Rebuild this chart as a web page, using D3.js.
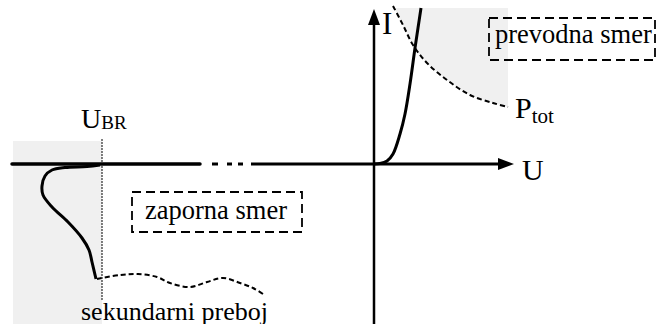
<!DOCTYPE html>
<html>
<head>
<meta charset="utf-8">
<script src="https://cdn.jsdelivr.net/npm/d3@7"></script>
<style>
  html, body { margin: 0; padding: 0; background: #fff; }
  svg { display: block; }
  svg text { font-family: "Liberation Serif", "DejaVu Serif", serif; }
</style>
</head>
<body>
<svg id="chart" width="658" height="324"></svg>
<script>
// Diode characteristic, schematic units: [U, I]
const forwardCurve = [[0,0],[0.6,0.05],[1.3,0.3],[1.9,1.0],[2.6,3.0],[3.1,5.0],[3.6,8.0],[4.1,11.6],[4.4,13.6],[4.7,15.6]];
const ptotCurve = [[1.9,15.8],[2.9,13.9],[3.9,11.9],[5.3,10.1],[7.3,8.4],[9.6,6.9],[11.9,6.1],[13.4,5.7]];
const breakdownCurve = [[-27.4,-0.1],[-28.7,-0.25],[-30.9,-0.35],[-32.2,-0.6],[-32.9,-1.2],[-33.2,-2.2],[-33.1,-3.1],[-32.2,-4.3],[-30.6,-5.8],[-29.2,-7.4],[-28.5,-8.6],[-28.2,-9.8],[-27.8,-11.5]];
const secondaryCurve = [[-27.7,-11.5],[-25.4,-11.1],[-23.6,-11.0],[-21.7,-11.3],[-20.4,-11.9],[-18.4,-12.3],[-16.7,-11.8],[-15.1,-11.4],[-13.4,-11.9],[-12.1,-12.4],[-11.1,-13.0]];
const leakageSegment = [-36.2, -17.4];
const axisBreakDots = [[-16.2,-15.6],[-14.7,-14.2],[-13.6,-13.1]];
const axisU = [-12.3, 14.0];
const axisI = [-16.0, 15.5];
const uBR = -27.2;
const labels = { U: "U", I: "I", P: "P", tot: "tot", BR: "BR", forward: "prevodna smer", reverse: "zaporna smer", secondary: "sekundarni preboj" };

const svg = d3.select("#chart");
const x = d3.scaleLinear().domain([-36.4, 28.4]).range([10, 658]);
const y = d3.scaleLinear().domain([-16.0, 16.4]).range([324, 0]);
const line = d3.line().x(d => x(d[0])).y(d => y(d[1])).curve(d3.curveCatmullRom.alpha(0.5));

// shaded regions
svg.append("rect").attr("x", x(-36.1)).attr("y", y(2.3))
  .attr("width", x(uBR) - x(-36.1)).attr("height", y(-16) - y(2.3)).attr("fill", "#f0f0f0");
const shadeTop = 15.6, shadeRight = ptotCurve[ptotCurve.length - 1][0];
svg.append("path")
  .attr("d", "M" + x(ptotCurve[0][0]) + "," + y(shadeTop) + "L" + x(shadeRight) + "," + y(shadeTop) +
    line(ptotCurve.slice().reverse()).replace("M", "L") + "Z")
  .attr("fill", "#f0f0f0");

// U_BR marker
svg.append("line").attr("x1", x(uBR)).attr("x2", x(uBR)).attr("y1", y(2.5)).attr("y2", y(-13.6))
  .attr("stroke", "#000").attr("stroke-width", 1).attr("stroke-dasharray", "2,1");

// axes
const arrow = (tipX, tipY, dir) => {
  const L = 16, W = 6;
  const pts = dir === "right"
    ? [[tipX, tipY], [tipX - L, tipY - W], [tipX - L, tipY + W]]
    : [[tipX, tipY], [tipX - W, tipY + L], [tipX + W, tipY + L]];
  svg.append("path").attr("d", "M" + pts.join("L") + "Z").attr("fill", "#000");
};
svg.append("line").attr("x1", x(axisU[0])).attr("x2", x(axisU[1]) - 12).attr("y1", y(0)).attr("y2", y(0))
  .attr("stroke", "#000").attr("stroke-width", 3);
arrow(x(axisU[1]), y(0), "right");
svg.append("line").attr("x1", x(0)).attr("x2", x(0)).attr("y1", y(axisI[0])).attr("y2", y(axisI[1]) + 12)
  .attr("stroke", "#000").attr("stroke-width", 2.5);
arrow(x(0), y(axisI[1]), "up");

// reverse leakage and axis break
svg.append("line").attr("x1", x(leakageSegment[0])).attr("x2", x(leakageSegment[1])).attr("y1", y(0)).attr("y2", y(0))
  .attr("stroke", "#000").attr("stroke-width", 3.5).attr("stroke-linecap", "round");
axisBreakDots.forEach(d => svg.append("line").attr("x1", x(d[0])).attr("x2", x(d[1])).attr("y1", y(0)).attr("y2", y(0))
  .attr("stroke", "#000").attr("stroke-width", 3));

// curves
svg.append("path").attr("d", line(forwardCurve)).attr("fill", "none").attr("stroke", "#000").attr("stroke-width", 3);
svg.append("path").attr("d", line(breakdownCurve)).attr("fill", "none").attr("stroke", "#000").attr("stroke-width", 3);
svg.append("path").attr("d", line(ptotCurve)).attr("fill", "none").attr("stroke", "#000").attr("stroke-width", 2).attr("stroke-dasharray", "5,3");
svg.append("path").attr("d", line(secondaryCurve)).attr("fill", "none").attr("stroke", "#000").attr("stroke-width", 2).attr("stroke-dasharray", "5,3");

// labels
const txt = (s, px, py, size) => svg.append("text").attr("x", px).attr("y", py)
  .attr("font-size", size).attr("fill", "#000").text(s);
// symbol with a lowered subscript, kept in one text element
const subTxt = (main, sub, px, py, size, subSize, shift) => {
  const t = svg.append("text").attr("x", px).attr("y", py).attr("font-size", size).attr("fill", "#000");
  t.append("tspan").text(main);
  t.append("tspan").attr("font-size", subSize).attr("dy", shift).text(sub);
  return t;
};
txt(labels.I, x(0.8), y(13.0), 31);
txt(labels.U, x(14.8), y(-1.6), 30);
subTxt(labels.P, labels.tot, x(14.1), y(4.6), 30, 21, 5);
subTxt(labels.U, labels.BR, x(-29.3), y(3.6), 28, 19, 1);

// dashed boxes
const box = (x0, y0, x1, y1) => svg.append("rect").attr("x", x(x0)).attr("y", y(y0))
  .attr("width", x(x1) - x(x0)).attr("height", y(y1) - y(y0))
  .attr("fill", "none").attr("stroke", "#000").attr("stroke-width", 1.8).attr("stroke-dasharray", "9,5");
box(11.5, 14.6, 28.1, 10.4);
txt(labels.forward, x(12.1), y(12.1), 26.5);
box(-24.2, -2.8, -7.2, -6.8);
txt(labels.reverse, x(-22.9), y(-5.5), 26.5);
txt(labels.secondary, x(-29.3), y(-15.6), 26);
</script>
</body>
</html>
